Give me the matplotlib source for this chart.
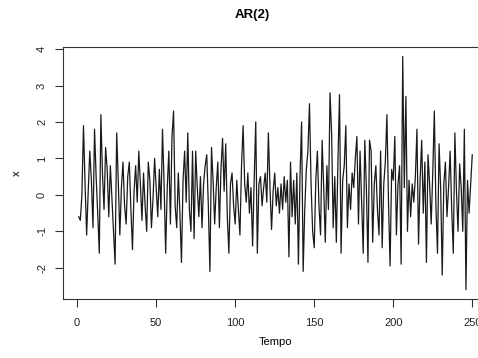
import numpy as np
import matplotlib
matplotlib.use("Agg")
import matplotlib.pyplot as plt

plt.rcParams['font.family'] = ['Liberation Sans', 'DejaVu Sans']

# serie AR(2) (t = 1..250)
x = [
    -0.6, -0.7, 0.0, 1.9, 0.3, -1.1, 0.1, 1.2, 0.4, -0.9,
    1.8, 0.5, -0.5, -1.6, 2.2, 0.6, -0.4, 1.3, 0.7, -0.6,
    0.8, -0.1, -1.0, -1.9, 1.7, 0.4, -1.1, 0.2, 0.9, -0.3,
    -0.8, 0.5, 0.9, -0.4, -1.5, 0.1, 0.8, -0.2, 1.2, 0.3,
    -0.7, 0.6, -0.3, -1.0, 0.9, 0.4, -0.9, -0.1, 1.0, 0.2,
    -0.6, 0.7, -0.4, 1.8, 0.3, -1.6, 0.2, 1.2, -0.8, 1.6,
    2.3, -0.3, -0.9, 0.6, -0.5, -1.85, 0.4, 1.2, -0.2, 1.7,
    -0.4, -1.0, 1.2, -1.2, 1.2, 0.2, -0.6, 0.5, -0.9, 0.3,
    0.8, 1.1, -0.3, -2.1, 1.3, 0.4, -0.8, 0.2, 0.9, -0.9,
    0.7, 1.55, 0.1, 1.4, -0.6, -1.6, 0.3, 0.6, -0.3, -0.8,
    0.4, -0.4, -1.1, 0.8, 1.9, 0.3, -0.2, 0.6, -0.5, 0.2,
    -1.4, 0.4, 2.0, -1.6, 0.3, 0.5, -0.3, 0.2, 0.6, -0.2,
    1.7, 0.2, -0.95, 0.1, 0.6, -0.3, 0.2, -0.5, 0.3, -0.4,
    0.5, -0.2, 0.4, -1.7, 0.9, -0.6, 0.4, -0.8, 0.6, -1.9,
    0.5, 2.0, -2.1, -0.4, 0.7, 1.2, 2.5, 0.3, -1.0, -1.45,
    0.4, 1.2, -0.3, -1.1, 1.5, 0.2, -1.3, 0.8, -0.4, 2.8,
    1.7, -0.9, 0.5, -1.3, 0.9, 2.75, -1.6, 0.4, 0.8, 1.9,
    -0.9, 0.3, -0.4, 0.6, 0.2, 1.0, 1.6, -0.8, 1.2, -0.2,
    -1.6, 1.5, 0.2, -1.85, 1.5, 1.2, -1.3, 0.3, 0.8, -0.4,
    -1.1, 1.2, -1.45, 0.3, 0.9, 2.2, -0.2, -1.95, 0.7, 0.4,
    1.6, -1.1, 0.3, 0.8, -1.9, 3.8, 0.2, 2.7, -1.0, 0.4,
    -0.6, 0.3, -0.2, 0.5, 1.8, -1.35, 0.4, 1.5, -0.5, 0.9,
    -1.85, 1.1, 0.3, -0.8, 0.6, 2.3, -0.3, -1.6, 1.4, 0.2,
    -2.2, 0.3, 0.9, -0.6, 0.2, 1.2, -0.4, -1.6, 1.7, 0.1,
    -1.0, 0.85, 0.2, -1.0, 1.8, -2.6, 0.4, -0.5, 0.3, 1.1,
]
tempo = np.arange(1, len(x) + 1)

xticks = [0, 50, 100, 150, 200, 250]
yticks = [-2, -1, 0, 1, 2, 3, 4]

fig = plt.figure(figsize=(4.78, 3.58), dpi=100)
# l'asse a destra esce dall'immagine come nell'originale
ax = fig.add_axes([63 / 478, 1 - 299 / 358, 425 / 478, 252 / 358])
ax.plot(tempo, x, color='#1a1a1a', lw=0.9)

# limiti stile R (4% di margine)
xr = tempo.max() - tempo.min()
ax.set_xlim(tempo.min() - 0.04 * xr, tempo.max() + 0.04 * xr)
yr = max(x) - min(x)
ax.set_ylim(min(x) - 0.04 * yr, max(x) + 0.04 * yr)

ax.set_xticks(xticks)
ax.set_yticks(yticks)
ax.set_yticklabels([str(v) for v in yticks], rotation=90, va='center')
ax.tick_params(direction='out', length=5.5, width=0.8, labelsize=8,
               colors='#333333', labelcolor='#222222')
ax.tick_params(axis='x', pad=8)
ax.tick_params(axis='y', pad=6)
for s in ax.spines.values():
    s.set_linewidth(0.8)
    s.set_color('#333333')

ax.set_xlabel('Tempo', fontsize=8, labelpad=7)
ax.set_ylabel('x', fontsize=8, labelpad=11)
fig.text(0.527, 1 - 15 / 358, 'AR(2)', fontsize=9.5, fontweight='bold',
         ha='center', va='center')

fig.savefig('out.png', dpi=100)
